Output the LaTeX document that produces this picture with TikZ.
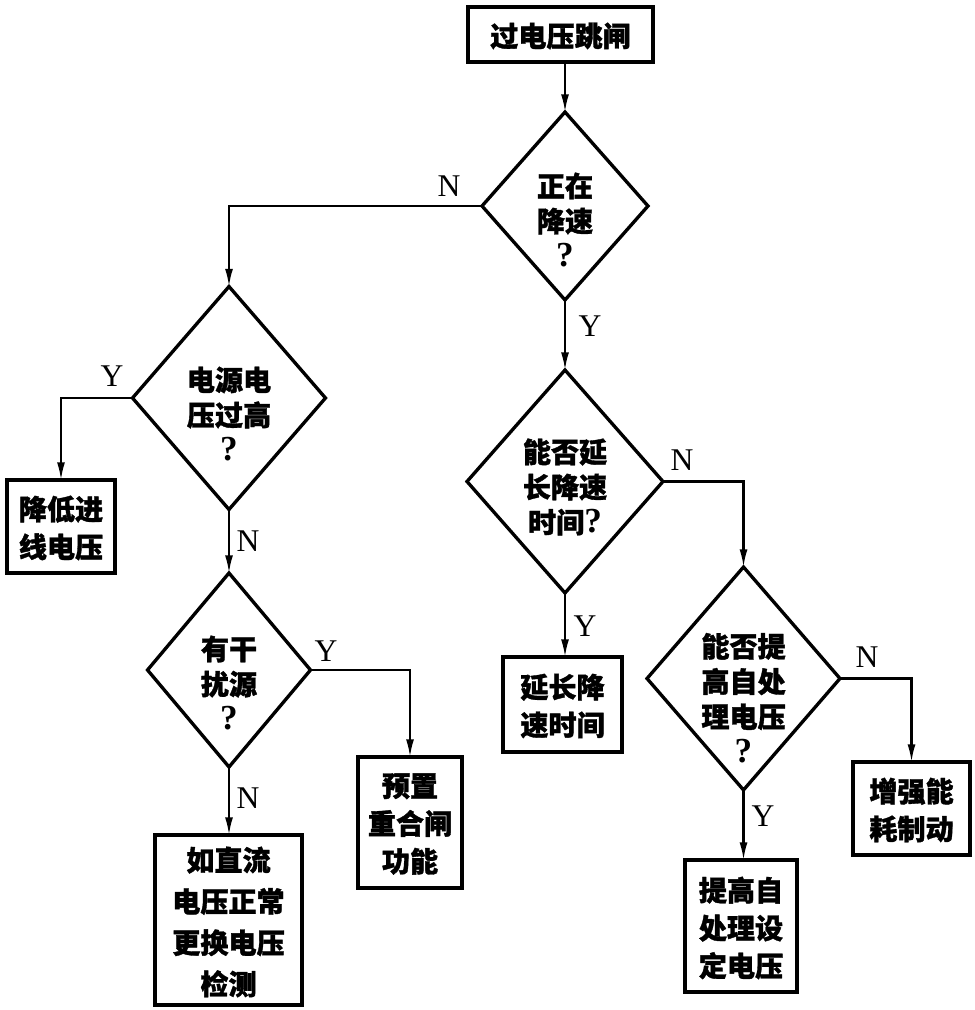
\documentclass[tikz,border=0pt]{standalone}
\usepackage{fontspec}
\setmainfont{Liberation Serif}
\newfontfamily\cjk{Noto Sans CJK SC}[BoldFeatures={FakeBold=1.2}]
\usetikzlibrary{shapes.geometric,arrows.meta}
\newcommand{\qm}{{\normalfont\bfseries\fontsize{20}{20}\selectfont ?}}
\begin{document}
\begin{tikzpicture}[x=0.02cm,y=-0.02cm,
  boxnode/.style={draw,line width=2.2pt,inner sep=0pt,outer sep=0pt},
  dia/.style={draw,diamond,line width=1.9pt,inner sep=0pt,outer sep=0pt},
  txt/.style={align=center,inner sep=0pt,font=\cjk\bfseries\fontsize{16}{21.5}\selectfont},
  dtxt/.style={align=center,inner sep=0pt,font=\cjk\bfseries\fontsize{16}{20}\selectfont},
  yn/.style={inner sep=0pt,font=\fontsize{18}{18}\selectfont},
  conn/.style={line width=1.2pt,-{Latex[length=10pt,width=4.5pt]}}]
\useasboundingbox (0,0) rectangle (974,1010);
% boxes
\node[boxnode,minimum width=3.7cm,minimum height=1.1cm] (t) at (560.5,34.5) {};
\node[txt] (tt) at (560.5,36) {过电压跳闸};
\node[boxnode,minimum width=2.16cm,minimum height=1.86cm] (b1) at (61,526.5) {};
\node[txt] (b1t) at (61,528) {降低进\\线电压};
\node[boxnode,minimum width=2.08cm,minimum height=2.62cm] (b2) at (410,822.5) {};
\node[txt] (b2t) at (410,824) {预置\\重合闸\\功能};
\node[boxnode,minimum width=2.94cm,minimum height=3.4cm] (b3) at (228.5,920) {};
\node[txt,font=\cjk\bfseries\fontsize{16}{23.5}\selectfont] (b3t) at (228.5,922) {如直流\\电压正常\\更换电压\\检测};
\node[boxnode,minimum width=2.38cm,minimum height=1.9cm] (b4) at (562.5,704.5) {};
\node[txt] (b4t) at (562.5,706) {延长降\\速时间};
\node[boxnode,minimum width=2.34cm,minimum height=1.86cm] (b5) at (911.5,808.5) {};
\node[txt] (b5t) at (911.5,810) {增强能\\耗制动};
\node[boxnode,minimum width=2.24cm,minimum height=2.64cm] (b6) at (741,926) {};
\node[txt] (b6t) at (741,928) {提高自\\处理设\\定电压};
% diamonds
\node[dia,minimum width=3.32cm,minimum height=3.76cm] (d1) at (565,206) {};
\node[dtxt] (d1t) at (565,220) {正在\\降速\\\qm};
\node[dia,minimum width=3.86cm,minimum height=4.46cm] (d2) at (229,398) {};
\node[dtxt] (d2t) at (229,414) {电源电\\压过高\\\qm};
\node[dia,minimum width=3.26cm,minimum height=3.88cm] (d3) at (229,670) {};
\node[dtxt] (d3t) at (229,683) {有干\\扰源\\\qm};
\node[dia,minimum width=3.92cm,minimum height=4.46cm] (d4) at (565,481.5) {};
\node[dtxt] (d4t) at (565,487) {能否延\\长降速\\时间\qm};
\node[dia,minimum width=3.86cm,minimum height=4.46cm] (d5) at (743.5,678.5) {};
\node[dtxt] (d5t) at (743.5,698) {能否提\\高自处\\理电压\\\qm};
% connectors
\draw[conn] (t.south -| d1.north) -- (d1.north);
\draw[conn] (d1.west) -| (d2.north);
\draw[conn] (d1.south) -- (d4.north);
\draw[conn] (d2.west) -| (b1.north);
\draw[conn] (d2.south) -- (d3.north);
\draw[conn] (d3.east) -| (b2.north);
\draw[conn] (d3.south) -- (d3.south |- b3.north);
\draw[conn] (d4.east) -| (d5.north);
\draw[conn] (d4.south) -- (d4.south |- b4.north);
\draw[conn] (d5.east) -| (b5.north);
\draw[conn] (d5.south) -- (d5.south |- b6.north);
% labels
\node[yn] (l1) at (449,186) {N};
\node[yn] (l2) at (590,326) {Y};
\node[yn] (l3) at (112,376) {Y};
\node[yn] (l4) at (248,541) {N};
\node[yn] (l5) at (326,651) {Y};
\node[yn] (l6) at (248,798) {N};
\node[yn] (l7) at (682,460) {N};
\node[yn] (l8) at (585,626) {Y};
\node[yn] (l9) at (867,657) {N};
\node[yn] (l10) at (763,816) {Y};
\end{tikzpicture}
\end{document}
